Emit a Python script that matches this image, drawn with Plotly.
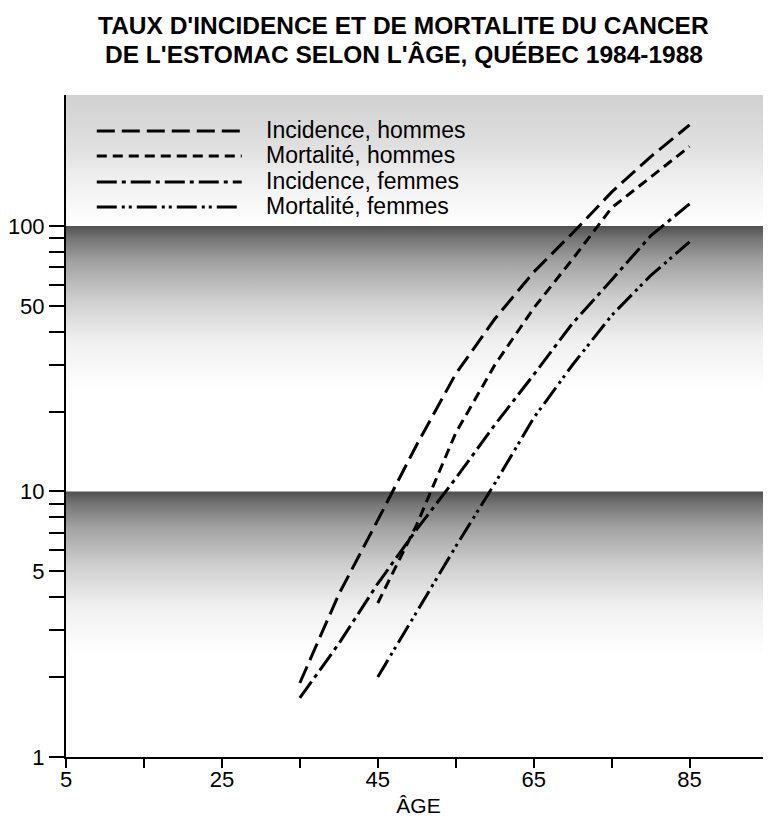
import plotly.graph_objects as go

# ---------------- data ----------------
ages = [35, 40, 45, 50, 55, 60, 65, 70, 75, 80, 85]
ages_mort = [45, 50, 55, 60, 65, 70, 75, 80, 85]
inc_hommes = [1.9, 4.1, 7.8, 15, 27.7, 44.6, 67, 94, 134, 182, 240]
mort_hommes = [3.8, 7.5, 16.6, 29.9, 49, 75, 117, 152, 199]
inc_femmes = [1.67, 2.67, 4.5, 7.2, 11.2, 17.8, 27.5, 43, 62.6, 91.7, 121]
mort_femmes = [2.0, 3.5, 6.2, 10.7, 18.9, 30, 46, 65, 87]

series_names = ["Incidence, hommes", "Mortalité, hommes",
                "Incidence, femmes", "Mortalité, femmes"]

x_tickvals = [5, 15, 25, 35, 45, 55, 65, 75, 85, 95]
x_ticktext = ["5", "", "25", "", "45", "", "65", "", "85", ""]
y_tickvals = [1, 2, 3, 4, 5, 6, 7, 8, 9, 10, 20, 30, 40, 50, 60, 70, 80, 90, 100]
y_ticktext = ["1", "", "", "", "5", "", "", "", "", "10", "", "", "", "50",
              "", "", "", "", "100"]

title_lines = ["TAUX D'INCIDENCE ET DE MORTALITE DU CANCER",
               "DE L'ESTOMAC SELON L'ÂGE, QUÉBEC 1984-1988"]
x_title = "ÂGE"

# ---------------- styles ----------------
FONT = "Liberation Sans, Arial, Helvetica, sans-serif"
dashes = ["18px,7px", "10px,6px", "20px,5px,4px,5px", "20px,5px,3px,4px,3px,5px"]
X_RANGE = [5, 95.45]
Y_RANGE = [0, 2.493]  # log10

fig = go.Figure()

# background halftone-like gradient bands
dark_scale = [[0, "rgba(255,255,255,1)"], [0.3, "#f0f0f0"], [0.55, "#cfcfcf"],
              [0.78, "#a2a2a2"], [0.92, "#767676"], [1, "#505050"]]
top_scale = [[0, "#ffffff"], [0.3, "#f2f2f2"], [0.6, "#e0e0e0"], [1, "#d0d0d0"]]
bands = [
    (10 ** (2 - 0.62), 100, dark_scale),
    (10 ** (1 - 0.62), 10, dark_scale),
    (100, 10 ** Y_RANGE[1], top_scale),
]
for lo, hi, cs in bands:
    fig.add_trace(go.Scatter(
        x=[X_RANGE[0], X_RANGE[1] + 1, X_RANGE[1] + 1, X_RANGE[0], X_RANGE[0]],
        y=[lo, lo, hi, hi, lo],
        fill="toself", mode="lines", line=dict(width=0),
        fillgradient=dict(type="vertical", colorscale=cs),
        hoverinfo="skip", showlegend=False))

series = [(ages, inc_hommes), (ages_mort, mort_hommes),
          (ages, inc_femmes), (ages_mort, mort_femmes)]
for (xs, ys), name, d in zip(series, series_names, dashes):
    fig.add_trace(go.Scatter(x=xs, y=ys, mode="lines", name=name,
                             line=dict(color="black", width=3, dash=d),
                             showlegend=False))

# page offset of the figure (browser body margin)
OFF = 8
# plot area in page pixels
L, T, W, H = 61, 95, 710, 662


def px(xp):
    return (xp - L) / W


def py(yp):
    return (T + H - yp) / H


leg_rows = [131, 156, 182, 207]
shapes = []
annotations = []
for name, d, yr in zip(series_names, dashes, leg_rows):
    shapes.append(dict(type="line", xref="paper", yref="paper",
                       x0=px(92), x1=px(238), y0=py(yr), y1=py(yr),
                       line=dict(color="black", width=3, dash=d)))
    annotations.append(dict(text=name, xref="paper", yref="paper",
                            x=px(260), y=py(yr - 1), xanchor="left",
                            yanchor="middle", showarrow=False,
                            font=dict(family=FONT, size=23, color="black")))

for line_text, yc in zip(title_lines, [25, 54]):
    annotations.append(dict(text="<b>" + line_text + "</b>", xref="paper",
                            yref="paper", x=px(401), y=py(yc), xanchor="center",
                            yanchor="middle", showarrow=False,
                            font=dict(family=FONT, size=24.5, color="black")))

fig.update_layout(
    width=771 - OFF, height=821 - OFF,
    margin=dict(l=L - OFF, r=0, t=T - OFF, b=821 - (T + H)),
    paper_bgcolor="white", plot_bgcolor="white",
    font=dict(family=FONT, color="black"),
    shapes=shapes, annotations=annotations,
    showlegend=False,
)
fig.update_xaxes(
    range=X_RANGE, showgrid=False, zeroline=False,
    showline=True, linecolor="black", linewidth=2,
    ticks="outside", ticklen=9, tickwidth=1.5, tickcolor="black",
    tickvals=x_tickvals, ticktext=x_ticktext, ticklabelstandoff=-7,
    tickfont=dict(family=FONT, size=22, color="black"),
    title=dict(text=x_title, font=dict(family=FONT, size=21, color="black"),
               standoff=7),
)
fig.update_yaxes(
    type="log", range=Y_RANGE, showgrid=False, zeroline=False,
    showline=True, linecolor="black", linewidth=2,
    ticks="outside", ticklen=15, tickwidth=1.5, tickcolor="black",
    tickvals=y_tickvals, ticktext=y_ticktext,
    tickfont=dict(family=FONT, size=22, color="black"),
)

fig.write_html("out.html")
